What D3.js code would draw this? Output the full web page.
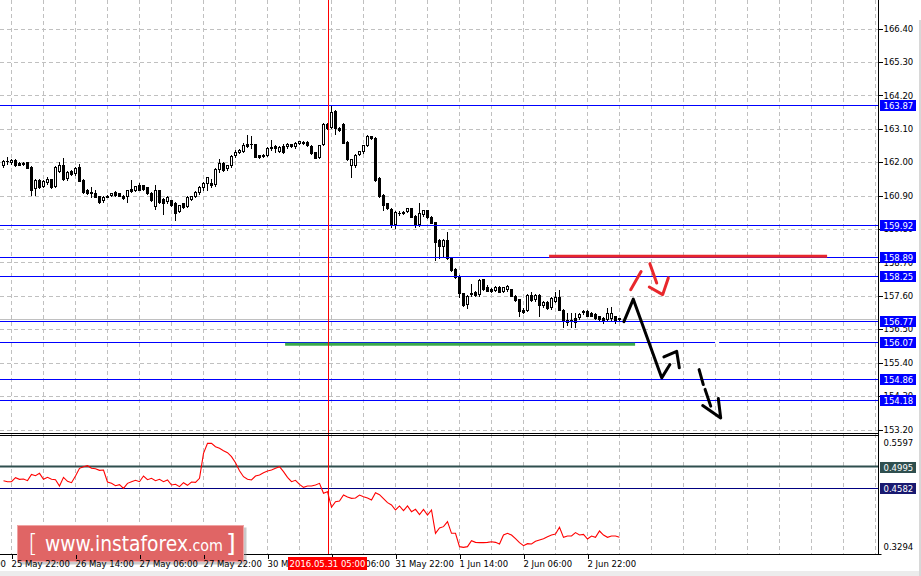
<!DOCTYPE html>
<html><head><meta charset="utf-8">
<script src="https://cdn.jsdelivr.net/npm/d3@7"></script>
<style>html,body{margin:0;padding:0;background:#fff;overflow:hidden}</style>
</head><body><svg id="c" width="921" height="576"></svg>
<script>
// ---------- DATA (H1 bars) ----------
const open=[161.87,161.99,161.98,162.06,161.98,161.98,161.99,161.85,161.13,161.41,
161.19,161.30,161.44,161.19,161.68,161.90,161.43,161.71,161.60,161.85,
161.41,161.08,161.02,160.97,160.88,160.72,160.89,160.89,161.02,160.97,
160.89,160.86,161.13,161.06,161.24,161.24,161.17,160.99,160.53,161.08,
160.80,160.69,160.75,160.66,160.37,160.64,160.53,160.77,160.86,160.97,
161.14,161.28,161.30,161.24,161.74,161.98,161.76,161.87,162.20,162.31,
162.34,162.61,162.58,162.59,162.23,162.25,162.21,162.42,162.53,162.34,
162.53,162.50,162.59,162.50,162.61,162.66,162.67,162.53,162.32,162.15,
162.58,163.27,163.13,163.69,163.13,163.27,162.67,161.87,161.87,162.25,
162.32,162.54,162.85,162.80,161.48,160.92,160.64,160.46,159.93,160.29,
160.31,160.37,160.48,160.23,159.93,160.26,160.42,160.20,160.02,159.44,
159.22,159.44,158.86,158.48,158.25,157.68,157.30,157.63,157.74,157.63,
158.14,157.90,157.81,157.77,157.90,157.74,157.79,157.81,157.60,157.49,
157.14,157.11,157.63,157.46,157.63,157.25,157.41,157.19,157.41,157.57,
157.14,156.81,156.75,156.86,156.86,157.03,157.10,157.05,157.00,156.92,
156.88,156.81,156.83,156.92,156.86];
const high=[162.06,162.17,162.10,162.09,162.00,162.00,162.00,161.86,161.43,161.43,
161.41,161.52,161.46,161.87,162.01,162.15,161.70,161.73,161.84,161.95,
161.43,161.12,161.19,161.10,160.90,160.88,160.92,160.99,161.04,160.99,
160.92,161.10,161.41,161.23,161.30,161.26,161.19,161.01,161.24,161.10,
160.82,160.88,160.77,160.68,160.60,160.66,160.88,160.90,161.04,161.21,
161.35,161.52,161.46,161.81,162.09,162.00,161.92,162.22,162.39,162.42,
162.64,162.89,162.85,162.61,162.25,162.27,162.50,162.72,162.56,162.52,
162.61,162.63,162.61,162.66,162.71,162.70,162.69,162.55,162.34,162.58,
163.29,163.30,163.87,163.71,163.15,163.29,162.69,162.12,162.27,162.38,
162.58,162.89,162.87,162.82,161.50,160.94,160.66,160.48,160.39,160.40,
160.39,160.50,160.50,160.25,160.66,160.44,160.44,160.22,160.04,159.46,
159.46,159.71,158.88,158.50,158.27,157.70,157.62,157.99,157.76,158.14,
158.16,157.96,157.85,157.92,157.92,157.90,157.95,157.83,157.62,157.51,
157.20,157.65,157.71,157.65,157.65,157.43,157.43,157.55,157.74,157.79,
157.16,157.03,157.03,157.03,157.03,157.14,157.12,157.07,157.02,156.94,
156.90,157.19,157.22,156.94,156.88];
const low=[161.85,161.95,161.95,161.88,161.90,161.91,161.80,160.91,160.91,161.15,
161.17,161.28,161.15,161.17,161.66,161.42,161.41,161.58,161.58,161.37,
161.00,160.95,160.86,160.84,160.67,160.70,160.84,160.87,160.89,160.87,
160.80,160.69,161.03,161.04,161.08,161.10,160.95,160.73,160.47,160.67,
160.31,160.67,160.56,160.11,160.35,160.50,160.51,160.75,160.84,160.95,
161.08,161.08,161.19,161.22,161.68,161.72,161.74,161.85,162.18,162.29,
162.32,162.51,162.45,162.16,162.15,162.18,162.19,162.40,162.34,162.32,
162.30,162.48,162.51,162.48,162.59,162.59,162.54,162.27,162.13,162.13,
162.56,163.09,163.11,162.94,163.03,162.62,162.07,161.50,161.85,162.23,
162.30,162.52,162.76,161.39,160.86,160.42,160.46,159.87,159.82,160.26,
160.29,160.35,160.18,159.85,159.91,160.24,160.16,159.99,158.78,158.83,
158.89,158.81,158.43,158.19,157.57,157.28,157.19,157.61,157.61,157.61,
157.79,157.75,157.74,157.75,157.72,157.72,157.77,157.58,157.44,156.92,
157.02,157.09,157.44,157.44,156.94,157.23,157.17,157.17,157.39,157.12,
156.57,156.64,156.59,156.57,156.84,157.01,156.93,156.92,156.84,156.81,
156.72,156.79,156.81,156.70,156.80];
const close=[162.04,162.04,162.06,161.90,161.92,161.93,161.82,161.08,161.41,161.17,
161.39,161.44,161.17,161.85,161.90,161.44,161.66,161.60,161.82,161.39,
161.02,160.97,160.97,160.86,160.69,160.86,160.86,160.97,160.91,160.89,
160.83,161.08,161.05,161.21,161.10,161.13,160.97,160.75,161.10,160.69,
160.64,160.86,160.58,160.33,160.58,160.53,160.86,160.88,161.02,161.19,
161.30,161.50,161.24,161.79,161.98,161.74,161.90,162.20,162.32,162.39,
162.56,162.53,162.61,162.18,162.18,162.20,162.45,162.50,162.48,162.50,
162.32,162.61,162.53,162.64,162.69,162.65,162.56,162.29,162.15,162.56,
163.27,163.11,163.65,163.11,163.05,162.64,162.09,162.10,162.25,162.36,
162.56,162.85,162.78,161.41,160.88,160.59,160.48,159.96,160.37,160.33,
160.37,160.48,160.20,159.93,160.33,160.42,160.18,160.01,159.38,159.24,
159.44,158.83,158.45,158.21,157.68,157.30,157.60,157.68,157.63,158.12,
157.81,157.77,157.77,157.90,157.74,157.88,157.92,157.60,157.46,157.11,
157.08,157.63,157.46,157.63,157.30,157.41,157.19,157.52,157.55,157.14,
156.81,156.75,156.81,156.75,157.00,157.10,156.95,156.94,156.86,156.83,
156.81,157.03,157.03,156.79,156.84];
const indicator=[0.4723,0.4703,0.4703,0.4781,0.4749,0.4755,0.4723,0.4845,0.4820,0.4865,
0.4749,0.4787,0.4749,0.4742,0.4620,0.4787,0.4710,0.4684,0.4813,0.4962,
0.4994,0.5013,0.4962,0.4955,0.4923,0.4929,0.4697,0.4671,0.4626,0.4645,
0.4574,0.4671,0.4703,0.4729,0.4703,0.4813,0.4742,0.4768,0.4723,0.4749,
0.4703,0.4736,0.4639,0.4652,0.4607,0.4684,0.4633,0.4697,0.4691,0.4768,
0.5252,0.5445,0.5445,0.5381,0.5349,0.5303,0.5265,0.5187,0.5071,0.4916,
0.4800,0.4749,0.4736,0.4813,0.4833,0.4878,0.4910,0.4929,0.4962,0.4994,
0.4897,0.4787,0.4703,0.4729,0.4652,0.4594,0.4620,0.4620,0.4639,0.4671,
0.4478,0.4510,0.4207,0.4316,0.4329,0.4445,0.4407,0.4381,0.4387,0.4445,
0.4413,0.4387,0.4349,0.4491,0.4452,0.4375,0.4297,0.4252,0.4155,0.4233,
0.4142,0.4233,0.4123,0.4168,0.4065,0.4168,0.4058,0.4155,0.3704,0.3807,
0.3833,0.3929,0.3704,0.3704,0.3446,0.3433,0.3446,0.3562,0.3529,0.3523,
0.3523,0.3529,0.3542,0.3529,0.3497,0.3671,0.3704,0.3671,0.3600,0.3523,
0.3465,0.3504,0.3497,0.3549,0.3574,0.3600,0.3639,0.3671,0.3691,0.3820,
0.3626,0.3652,0.3652,0.3717,0.3671,0.3684,0.3594,0.3652,0.3626,0.3749,
0.3671,0.3626,0.3652,0.3652,0.3626];

const priceTicks=[166.40,165.30,164.20,163.10,162.00,160.90,159.80,158.70,157.60,156.50,155.40,154.30,153.20];
const priceDomain=[153.20,166.40];
const levels=[163.87,159.92,158.89,158.25,156.77,156.07,154.86,154.18];
const indDomain=[0.3294,0.5597];
const indLevelMain=0.4995;
const indLevelLow=0.4582;
const timeIdx=[-14,2,18,34,50,66,82,98,114,130,146];
const timeText=["25 May 06:00","25 May 22:00","26 May 14:00","27 May 06:00","27 May 22:00","30 May 14:00","31 May 06:00","31 May 22:00","1 Jun 14:00","2 Jun 06:00","2 Jun 22:00"];
const cursorBar=81, cursorText="2016.05.31 05:00";
// hand drawn objects: [bar index, price]
const redLevel=[[136.4,158.89],[205.9,158.89]];
const greenLevel=[[70.4,156.01],[157.9,156.01]];
const blackPath1=[[155.1,156.75],[157.45,157.49],[164.55,154.90],[166.6,155.34]];
const blackPath2=[[165.1,155.59],[168.3,155.77],[168.95,155.23]];
const redDash1=[[156.8,157.80],[159.4,158.40]];
const redDash2=[[161.6,158.66],[163.3,158.02]];
const redHead=[[161.45,157.89],[164.8,157.64],[166.2,158.19]];
const blackDash1=[[173.9,155.17],[174.95,154.68]];
const blackDash2=[[175.4,154.52],[176.8,153.97]];
const blackHead=[[174.8,153.99],[179.3,153.58],[178.7,154.22]];
const levelGap=[177.9,178.9];

// ---------- SCALES ----------
const svg=d3.select('#c');
const F='DejaVu Sans';
const RIGHT=878.5;
const x=d3.scaleLinear().domain([0,1]).range([3.5,7.5]);
const y=d3.scaleLinear().domain(priceDomain).range([429.5,28.5]);
const yi=d3.scaleLinear().domain(indDomain).range([554.5,435.5]);

svg.append('rect').attr('width',921).attr('height',576).attr('fill','#fff');

const defs=svg.append('defs');
defs.append('clipPath').attr('id','cm').append('rect').attr('x',0).attr('y',0).attr('width',878).attr('height',433);
defs.append('clipPath').attr('id','ci').append('rect').attr('x',0).attr('y',436).attr('width',878).attr('height',118);

// grid
const grid=svg.append('g').attr('stroke','#c0c0c0').attr('stroke-dasharray','4,3').attr('shape-rendering','crispEdges');
const vIdx=d3.range(2,300,8).filter(i=>x(i)<877);
grid.selectAll('line.v').data(vIdx).join('line').attr('x1',d=>x(d)).attr('x2',d=>x(d)).attr('y1',0).attr('y2',554);
grid.selectAll('line.h').data(priceTicks).join('line').attr('x1',0).attr('x2',878).attr('y1',d=>Math.round(y(d))+0.5).attr('y2',d=>Math.round(y(d))+0.5);

// main panel objects
const main=svg.append('g').attr('clip-path','url(#cm)');
const line=d3.line().x(d=>x(d[0])).y(d=>y(d[1]));

// bid line
main.append('line').attr('x1',0).attr('x2',878).attr('y1',Math.round(y(close[close.length-1]))+0.5).attr('y2',Math.round(y(close[close.length-1]))+0.5).attr('stroke','#c0c0c0');

// candles
const bars=d3.range(open.length);
const cg=main.append('g').attr('shape-rendering','crispEdges');
cg.selectAll('line.w').data(bars).join('line').attr('x1',i=>x(i)).attr('x2',i=>x(i))
  .attr('y1',i=>Math.round(y(high[i]))).attr('y2',i=>Math.round(y(low[i]))+1).attr('stroke','#000');
cg.selectAll('rect.b').data(bars).join('rect')
  .attr('x',i=>close[i]>=open[i]?x(i)-1:x(i)-1.5)
  .attr('width',i=>close[i]>=open[i]?2:3)
  .attr('y',i=>{const t=Math.round(y(Math.max(open[i],close[i])));return close[i]>=open[i]?t+0.5:t;})
  .attr('height',i=>{const h=Math.max(1,Math.round(y(Math.min(open[i],close[i])))-Math.round(y(Math.max(open[i],close[i]))));return close[i]>=open[i]?Math.max(h-1,0.01):h+1;})
  .attr('fill',i=>close[i]>=open[i]?'#fff':'#000')
  .attr('stroke',i=>close[i]>=open[i]?'#000':'none');

// level lines
main.selectAll('line.lv').data(levels).join('line').attr('x1',0).attr('x2',878)
  .attr('y1',d=>Math.round(y(d))+0.5).attr('y2',d=>Math.round(y(d))+0.5).attr('stroke','#0000ff').attr('shape-rendering','crispEdges');
main.append('rect').attr('x',x(levelGap[0])).attr('width',x(levelGap[1])-x(levelGap[0])).attr('y',y(156.07)-1.5).attr('height',3).attr('fill','#fff');

// drawn objects
main.append('path').attr('d',line(greenLevel)).attr('stroke','#3bab4a').attr('stroke-width',3).attr('fill','none');
main.append('path').attr('d',line(redLevel)).attr('stroke','#e8272c').attr('stroke-width',3).attr('fill','none').attr('transform','translate(0,-0.5)');
[redDash1,redDash2,redHead].forEach(p=>main.append('path').attr('d',line(p)).attr('stroke','#e8272c').attr('stroke-width',3).attr('fill','none').attr('stroke-linecap','round').attr('stroke-linejoin','round'));
[blackPath1,blackPath2,blackDash1,blackDash2,blackHead].forEach(p=>main.append('path').attr('d',line(p)).attr('stroke','#000').attr('stroke-width',3).attr('fill','none').attr('stroke-linecap','round').attr('stroke-linejoin','round'));

// indicator panel
const ind=svg.append('g').attr('clip-path','url(#ci)');
ind.append('line').attr('x1',0).attr('x2',878).attr('y1',yi(indLevelMain)).attr('y2',yi(indLevelMain)).attr('stroke','#2f4f4f').attr('stroke-width',2);
ind.append('line').attr('x1',0).attr('x2',878).attr('y1',Math.round(yi(indLevelLow))+0.5).attr('y2',Math.round(yi(indLevelLow))+0.5).attr('stroke','#000080').attr('shape-rendering','crispEdges');
ind.append('path').attr('d',d3.line().x((d,i)=>x(i)).y(d=>yi(d))(indicator)).attr('stroke','#ff0000').attr('fill','none').attr('stroke-width',1.1);

// cursor vertical line
svg.append('line').attr('x1',Math.round(x(cursorBar))+0.5).attr('x2',Math.round(x(cursorBar))+0.5).attr('y1',0).attr('y2',554).attr('stroke','#ff0000').attr('shape-rendering','crispEdges');

// frames
const fr=svg.append('g').attr('stroke','#000').attr('shape-rendering','crispEdges');
fr.append('line').attr('x1',0).attr('x2',RIGHT).attr('y1',433.5).attr('y2',433.5);
fr.append('line').attr('x1',0).attr('x2',RIGHT).attr('y1',435.5).attr('y2',435.5);
fr.append('line').attr('x1',0).attr('x2',RIGHT).attr('y1',554.5).attr('y2',554.5);
fr.append('line').attr('x1',RIGHT).attr('x2',RIGHT).attr('y1',0).attr('y2',555);

// price axis
const gy=svg.append('g').attr('transform',`translate(${RIGHT},0)`)
  .call(d3.axisRight(y).tickValues(priceTicks).tickSize(4).tickPadding(1).tickFormat(d3.format('.2f')));
gy.select('.domain').remove();
gy.selectAll('line').attr('stroke','#000').attr('shape-rendering','crispEdges');
gy.selectAll('text').attr('font-family',F).attr('font-size','8.5px').attr('fill','#000');

// level labels
const lb=svg.append('g');
levels.forEach(v=>{
  const yy=Math.round(y(v));
  lb.append('rect').attr('x',880).attr('y',yy-5).attr('width',36).attr('height',11).attr('fill','#0000ff');
  lb.append('text').attr('x',883.5).attr('y',yy+4).attr('fill','#fff').attr('font-family',F).attr('font-size','8.5px').text(v.toFixed(2));
});

// indicator axis labels
const il=svg.append('g').attr('font-family',F).attr('font-size','8.5px');
il.append('text').attr('x',883.5).attr('y',yi(indDomain[1])+10.5).text(indDomain[1].toFixed(4));
il.append('text').attr('x',883.5).attr('y',yi(indDomain[0])-4.5).text(indDomain[0].toFixed(4));
il.append('line').attr('x1',RIGHT).attr('x2',RIGHT+3).attr('y1',554.5).attr('y2',554.5).attr('stroke','#000');
[[indLevelMain,'#2f4f4f'],[indLevelLow,'#191970']].forEach(([v,c])=>{
  const yy=Math.round(yi(v));
  il.append('rect').attr('x',880).attr('y',yy-5).attr('width',36).attr('height',11).attr('fill',c);
  il.append('text').attr('x',883.5).attr('y',yy+4).attr('fill','#fff').text(v.toFixed(4));
});

// logo
const lg=svg.append('g');
lg.append('rect').attr('x',19.5).attr('y',527.5).attr('width',227).attr('height',37).attr('fill','#888').attr('opacity',0.45);
lg.append('rect').attr('x',17.5).attr('y',525.5).attr('width',226).attr('height',36).attr('fill','#e06565').attr('stroke','#f0a3a3');
lg.append('text').attr('x',28).attr('y',552).attr('fill','#fff').attr('font-family',F).attr('font-size','25px').attr('font-weight',200).text('[');
lg.append('text').attr('x',45).attr('y',551).attr('fill','#fff').attr('font-family',F).attr('font-size','21px').attr('textLength',143).attr('lengthAdjust','spacingAndGlyphs').text('www.instaforex');
lg.append('text').attr('x',188).attr('y',551).attr('fill','#fff').attr('font-family',F).attr('font-size','15px').attr('textLength',35).attr('lengthAdjust','spacingAndGlyphs').text('.com');
lg.append('text').attr('x',226).attr('y',552).attr('fill','#fff').attr('font-family',F).attr('font-size','25px').text(']');

// time axis
const gx=svg.append('g').attr('transform','translate(0,554.5)')
  .call(d3.axisBottom(x).tickValues(timeIdx).tickSize(4).tickPadding(2).tickFormat((d,i)=>timeText[i]));
gx.select('.domain').remove();
gx.selectAll('line').attr('stroke','#000').attr('shape-rendering','crispEdges');
gx.selectAll('text').attr('text-anchor','start').attr('x',-0.5).attr('font-family',F).attr('font-size','8.5px').attr('fill','#000');

// cursor time label
const cx=x(cursorBar);
svg.append('rect').attr('x',cx-39.5).attr('y',557).attr('width',79).attr('height',13).attr('fill','#ff0000');
svg.append('text').attr('x',cx).attr('y',566.5).attr('text-anchor','middle').attr('fill','#fff').attr('font-family',F).attr('font-size','8.5px').text(cursorText);

// window edges
svg.append('rect').attr('x',0).attr('y',571).attr('width',921).attr('height',5).attr('fill','#ececec');
svg.append('rect').attr('x',919).attr('y',20).attr('width',2).attr('height',556).attr('fill','#d8d8d8');
</script></body></html>
